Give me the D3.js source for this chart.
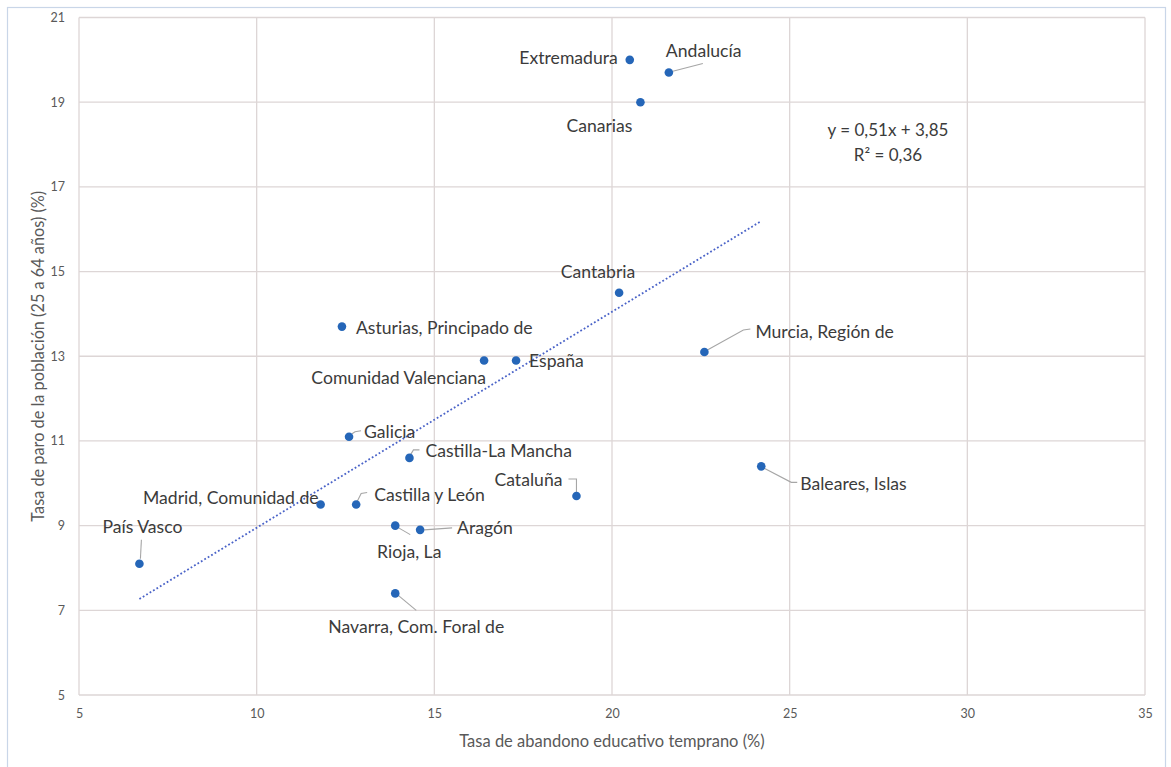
<!DOCTYPE html>
<html lang="es">
<head>
<meta charset="utf-8">
<script src="https://cdn.jsdelivr.net/npm/d3@7/dist/d3.min.js"></script>
<style>
  html, body { margin: 0; padding: 0; background: #ffffff; }
  svg { display: block; font-family: Lato, "Open Sans", sans-serif; }
</style>
</head>
<body>
<svg id="chart" width="1171" height="767"></svg>
<script>
// Comunidades autónomas: abandono educativo temprano vs. tasa de paro (25-64 años)
const regions = [
  "Extremadura", "Andalucía", "Canarias", "Cantabria",
  "Asturias, Principado de", "Comunidad Valenciana", "España",
  "Murcia, Región de", "Galicia", "Castilla-La Mancha",
  "Baleares, Islas", "Cataluña", "Madrid, Comunidad de",
  "Castilla y León", "Rioja, La", "Aragón", "País Vasco",
  "Navarra, Com. Foral de"
];
const abandono = [
  20.5, 21.6, 20.8, 20.2,
  12.4, 16.4, 17.3,
  22.6, 12.6, 14.3,
  24.2, 19.0, 11.8,
  12.8, 13.9, 14.6, 6.7,
  13.9
];
const paro = [
  20.0, 19.7, 19.0, 14.5,
  13.7, 12.9, 12.9,
  13.1, 11.1, 10.6,
  10.4, 9.7, 9.5,
  9.5, 9.0, 8.9, 8.1,
  7.4
];
const xTicks = [5, 10, 15, 20, 25, 30, 35];
const yTicks = [5, 7, 9, 11, 13, 15, 17, 19, 21];
// Linear trend reported for the series
const trendSlope = 0.51;
const trendIntercept = 3.85;
const trendR2 = 0.36;

// Label placement for each region: text offset from its point, anchor, optional leader path
const labelLayout = {
  "Extremadura":            { dx: -12, dy: -2,  anchor: "end" },
  "Andalucía":              { dx: -3,  dy: -22, anchor: "start",  leader: [[3, -1], [34, -9]] },
  "Canarias":               { dx: -41, dy: 23,  anchor: "middle" },
  "Cantabria":              { dx: -21, dy: -21, anchor: "middle" },
  "Asturias, Principado de":{ dx: 14,  dy: 1,   anchor: "start" },
  "Comunidad Valenciana":   { dx: 2,   dy: 17,  anchor: "end" },
  "España":                 { dx: 13,  dy: 0,   anchor: "start" },
  "Murcia, Región de":      { dx: 51,  dy: -21, anchor: "start",  leader: [[3, -2], [39, -22], [46, -23]] },
  "Galicia":                { dx: 15,  dy: -5,  anchor: "start",  leader: [[3, -3], [6, -5], [12, -6]] },
  "Castilla-La Mancha":     { dx: 16,  dy: -7,  anchor: "start",  leader: [[1, -3], [4, -8], [10, -8]] },
  "Baleares, Islas":        { dx: 39,  dy: 17,  anchor: "start",  leader: [[3, 2], [30, 16], [36, 16]] },
  "Cataluña":               { dx: -14, dy: -16, anchor: "end",    leader: [[0, -4], [0, -17], [-8, -17]] },
  "Madrid, Comunidad de":   { dx: -2,  dy: -7,  anchor: "end" },
  "Castilla y León":        { dx: 18,  dy: -10, anchor: "start",  leader: [[1, -3], [5, -11], [11, -12]] },
  "Rioja, La":              { dx: 14,  dy: 26,  anchor: "middle", leader: [[3, 2], [15, 9]] },
  "Aragón":                 { dx: 37,  dy: -2,  anchor: "start",  leader: [[4, 0], [32, -2]] },
  "País Vasco":             { dx: 3,   dy: -37, anchor: "middle", leader: [[1, -5], [2, -24]] },
  "Navarra, Com. Foral de": { dx: 21,  dy: 33,  anchor: "middle", leader: [[3, 2], [21, 17]] }
};

const points = regions.map((name, i) => ({ name, x: abandono[i], y: paro[i] }));

const svg = d3.select("#chart");
const plot = { left: 79, right: 1145, top: 17.5, bottom: 695 };

// Outer chart frame
svg.append("rect")
  .attr("x", 7.5).attr("y", 7.5)
  .attr("width", 1158).attr("height", 820)
  .attr("fill", "#ffffff")
  .attr("stroke", "#c9d6e8").attr("stroke-width", 1.2);

const x = d3.scaleLinear().domain([5, 35]).range([plot.left, plot.right]);
const y = d3.scaleLinear().domain([5, 21]).range([plot.bottom, plot.top]);

// Gridlines
const grid = svg.append("g").attr("class", "grid");
grid.selectAll("line.v").data(xTicks).join("line")
  .attr("class", "v")
  .attr("x1", d => x(d)).attr("x2", d => x(d))
  .attr("y1", plot.top).attr("y2", plot.bottom)
  .attr("stroke", "#ddd6d6").attr("stroke-width", 1.3);
grid.selectAll("line.h").data(yTicks).join("line")
  .attr("class", "h")
  .attr("x1", plot.left).attr("x2", plot.right)
  .attr("y1", d => y(d)).attr("y2", d => y(d))
  .attr("stroke", "#ddd6d6").attr("stroke-width", 1.3);

// Axes (tick labels only; gridlines carry the structure)
const xAxis = d3.axisBottom(x).tickValues(xTicks).tickSize(0).tickPadding(14);
const yAxis = d3.axisLeft(y).tickValues(yTicks).tickSize(0).tickPadding(14);

const gx = svg.append("g").attr("transform", `translate(0,${plot.bottom})`).call(xAxis);
const gy = svg.append("g").attr("transform", `translate(${plot.left},0)`).call(yAxis);
[gx, gy].forEach(g => {
  g.select(".domain").remove();
  g.selectAll("text")
    .attr("fill", "#595959")
    .style("font-size", "12.5px")
    .style("font-family", "Lato, sans-serif");
});

// Axis titles
svg.append("text")
  .attr("x", 612).attr("y", 741)
  .attr("text-anchor", "middle").attr("dominant-baseline", "central")
  .attr("fill", "#595959").style("font-size", "16.5px")
  .text("Tasa de abandono educativo temprano (%)");

svg.append("text")
  .attr("transform", `translate(37,${(plot.top + plot.bottom) / 2}) rotate(-90)`)
  .attr("text-anchor", "middle").attr("dominant-baseline", "central")
  .attr("fill", "#595959").style("font-size", "16.3px")
  .text("Tasa de paro de la población (25 a 64 años) (%)");

// Trend line across the observed range of x
const xExt = d3.extent(abandono);
const trend = xExt.map(v => [v, trendSlope * v + trendIntercept]);
svg.append("path")
  .attr("d", d3.line().x(d => x(d[0])).y(d => y(d[1]))(trend))
  .attr("fill", "none")
  .attr("stroke", "#4a63c8").attr("stroke-width", 1.8)
  .attr("stroke-dasharray", "1.8,2.2");

// Leader lines
const leaders = svg.append("g");
points.forEach(p => {
  const l = labelLayout[p.name];
  if (!l.leader) return;
  const px = x(p.x), py = y(p.y);
  leaders.append("path")
    .attr("d", d3.line()(l.leader.map(([a, b]) => [px + a, py + b])))
    .attr("fill", "none").attr("stroke", "#a6a6a6").attr("stroke-width", 1.1);
});

// Points
svg.append("g").selectAll("circle").data(points).join("circle")
  .attr("cx", d => x(d.x)).attr("cy", d => y(d.y))
  .attr("r", 4.3)
  .attr("fill", "#2566b8");

// Region labels
svg.append("g").selectAll("text").data(points).join("text")
  .attr("x", d => x(d.x) + labelLayout[d.name].dx)
  .attr("y", d => y(d.y) + labelLayout[d.name].dy)
  .attr("text-anchor", d => labelLayout[d.name].anchor)
  .attr("dominant-baseline", "central")
  .attr("fill", "#3b3b3b")
  .style("font-size", "17.6px")
  .text(d => d.name);

// Trend equation
const fmt = v => String(v.toFixed(2)).replace(".", ",");
const eq = svg.append("text")
  .attr("text-anchor", "middle").attr("fill", "#3b3b3b").style("font-size", "17px");
eq.append("tspan").attr("x", 888).attr("y", 129).attr("dominant-baseline", "central")
  .text(`y = ${fmt(trendSlope)}x + ${fmt(trendIntercept)}`);
eq.append("tspan").attr("x", 888).attr("y", 154).attr("dominant-baseline", "central")
  .text(`R² = ${fmt(trendR2)}`);
</script>
</body>
</html>
